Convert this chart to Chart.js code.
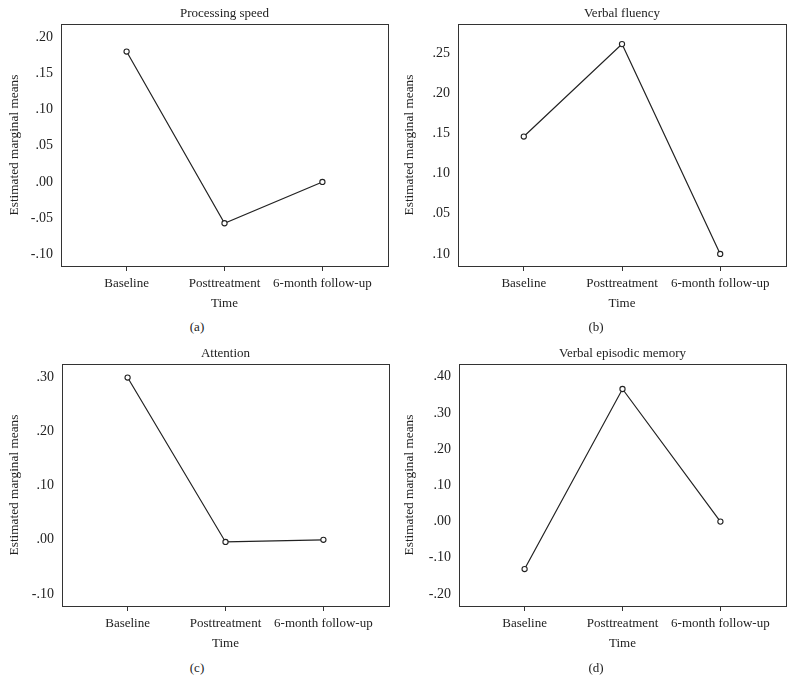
<!DOCTYPE html>
<html>
<head>
<meta charset="utf-8">
<script src="https://cdn.jsdelivr.net/npm/chart.js@4.4.1/dist/chart.umd.min.js"></script>
<style>
  body { margin: 0; background: #fff; width: 795px; height: 694px; position: relative; overflow: hidden; font-family: "Liberation Serif", serif; }
  canvas { position: absolute; }
  .cap { position: absolute; width: 60px; text-align: center; font-size: 13px; line-height: 16px; color: #222; }
</style>
</head>
<body>
<canvas id="chartA" width="397" height="315" style="left:0;top:0"></canvas>
<canvas id="chartB" width="400" height="315" style="left:395px;top:0"></canvas>
<canvas id="chartC" width="397" height="315" style="left:0;top:340px"></canvas>
<canvas id="chartD" width="400" height="315" style="left:395px;top:340px"></canvas>
<div class="cap" style="left:167px;top:319px">(a)</div>
<div class="cap" style="left:566px;top:319px">(b)</div>
<div class="cap" style="left:167px;top:660px">(c)</div>
<div class="cap" style="left:566px;top:660px">(d)</div>
<script>
// CATEGORIES
// -----------------------------
let timePoints = ['Baseline', 'Posttreatment', '6-month follow-up'];

// SERIES VALUES
// -----------------------------
let processingSpeed = [0.180, -0.057, 0.000];
let verbalFluency = [0.146, 0.261, 0.000];
let attention = [0.299, -0.004, 0.000];
let verbalMemory = [-0.131, 0.366, 0.000];

// Y TICKS (values + printed labels)
// -----------------------------
let ticksA = [-0.10, -0.05, 0, 0.05, 0.10, 0.15, 0.20];
let labelsA = ['-.10', '-.05', '.00', '.05', '.10', '.15', '.20'];
let ticksB = [0, 0.05, 0.10, 0.15, 0.20, 0.25];
let labelsB = ['.10', '.05', '.10', '.15', '.20', '.25'];
let ticksC = [-0.10, 0, 0.10, 0.20, 0.30];
let labelsC = ['-.10', '.00', '.10', '.20', '.30'];
let ticksD = [-0.20, -0.10, 0, 0.10, 0.20, 0.30, 0.40];
let labelsD = ['-.20', '-.10', '.00', '.10', '.20', '.30', '.40'];

Chart.defaults.font.family = '"Liberation Serif", serif';
Chart.defaults.color = '#222';

// box round the plot area + panel title
const panelFrame = {
  id: 'panelFrame',
  afterDraw(chart, args, opts) {
    const { ctx, chartArea: a } = chart;
    ctx.save();
    ctx.strokeStyle = '#333';
    ctx.lineWidth = 1;
    ctx.strokeRect(Math.round(a.left) + 0.5, Math.round(a.top) + 0.5,
      Math.round(a.right - a.left), Math.round(a.bottom - a.top));
    ctx.fillStyle = '#222';
    ctx.font = '13px "Liberation Serif", serif';
    ctx.textAlign = 'center';
    ctx.textBaseline = 'middle';
    ctx.fillText(opts.text, (a.left + a.right) / 2, a.top - 10);
    ctx.restore();
  }
};

function makeChart(id, title, values, yTicks, yLabels, yMin, yMax, yWidth, padRight) {
  return new Chart(document.getElementById(id), {
    type: 'line',
    data: {
      datasets: [{
        data: values.map((v, i) => ({ x: i, y: v })),
        borderColor: '#222',
        borderWidth: 1.2,
        pointRadius: 2.6,
        pointBorderWidth: 1.1,
        pointBorderColor: '#222',
        pointBackgroundColor: '#fff',
        tension: 0,
      }],
    },
    options: {
      responsive: false,
      animation: false,
      layout: { padding: { top: 24, right: padRight, left: 0, bottom: 0 } },
      plugins: {
        legend: { display: false },
        tooltip: { enabled: false },
        panelFrame: { text: title },
      },
      scales: {
        x: {
          type: 'linear',
          min: -0.67,
          max: 2.67,
          afterBuildTicks: (s) => { s.ticks = timePoints.map((_, i) => ({ value: i })); },
          afterFit: (s) => { s.height = 49; },
          border: { display: false },
          grid: { display: true, drawOnChartArea: false, drawTicks: true, tickLength: 5, color: '#333' },
          ticks: {
            autoSkip: false,
            maxRotation: 0,
            padding: 5,
            font: { size: 13 },
            callback: (v) => timePoints[v],
          },
          title: { display: true, text: 'Time', font: { size: 13 }, padding: { top: 0, bottom: 4 } },
        },
        y: {
          min: yMin,
          max: yMax,
          afterBuildTicks: (s) => { s.ticks = yTicks.map((v) => ({ value: v })); },
          afterFit: (s) => { s.width = yWidth; },
          border: { display: false },
          grid: { display: false, drawTicks: false },
          ticks: {
            padding: 8,
            font: { size: 14 },
            callback: (v, i) => yLabels[i],
          },
          title: { display: true, text: 'Estimated marginal means', font: { size: 13.3 }, padding: { top: 7, bottom: 0 } },
        },
      },
    },
    plugins: [panelFrame],
  });
}

// RENDER CHARTS
// -----------------------------
makeChart('chartA', 'Processing speed', processingSpeed, ticksA, labelsA, -0.116, 0.218, 61, 9);
makeChart('chartB', 'Verbal fluency', verbalFluency, ticksB, labelsB, -0.015, 0.286, 63, 9);
makeChart('chartC', 'Attention', attention, ticksC, labelsC, -0.122, 0.324, 62, 8);
makeChart('chartD', 'Verbal episodic memory', verbalMemory, ticksD, labelsD, -0.233, 0.435, 64, 9);
</script>
</body>
</html>
